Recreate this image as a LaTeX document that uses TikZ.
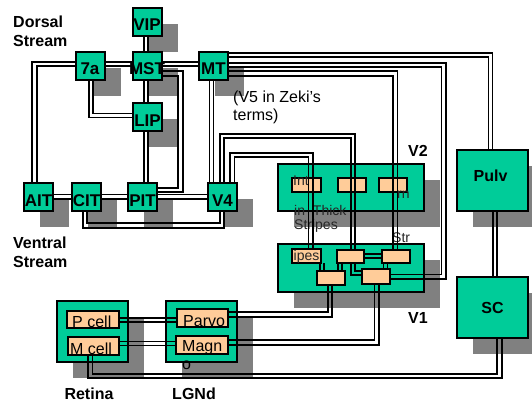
\documentclass[tikz,border=0pt]{standalone}
\usepackage{fontspec}
\setmainfont{Liberation Sans}
\usetikzlibrary{calc,shadows}
\definecolor{boxgreen}{RGB}{0,204,153}
\definecolor{suborange}{RGB}{255,204,153}
\definecolor{shadgray}{RGB}{128,128,128}
\tikzset{
 gbox/.style={draw=black, line width=2pt, fill=boxgreen, inner sep=0pt, outer sep=0pt,
   general shadow={fill=shadgray, shadow xshift=16pt, shadow yshift=-16pt}},
 smallbox/.style={gbox, minimum width=29pt, minimum height=28pt},
 bigbox/.style={gbox, minimum width=71pt, minimum height=61pt},
 areabox/.style={gbox, minimum width=146pt, minimum height=47pt},
 obox/.style={draw=black, line width=2pt, fill=suborange, inner sep=0pt, outer sep=0pt},
 bl/.style={font=\fontsize{16}{18.5}\selectfont\bfseries, inner sep=0pt},
 sbl/.style={font=\fontsize{17}{18.5}\selectfont\bfseries, inner sep=0pt},
 rl/.style={font=\fontsize{16}{18}\selectfont, inner sep=0pt},
 gl/.style={font=\fontsize{14}{14.5}\selectfont, inner sep=0pt, text=black!85},
 ln/.style={line width=1.8pt, draw=black},
}
\newcommand\vlinkx[3]{\coordinate (tmpc) at ($(#1)+(#2,0)$);\draw[ln] (tmpc) -- (tmpc |- #3);}
\newcommand\hlinkx[3]{\coordinate (tmpc) at ($(#1)+(0,#2)$);\draw[ln] (tmpc) -- (tmpc -| #3);}
\begin{document}
\begin{tikzpicture}[x=1pt,y=-1pt]
\useasboundingbox (0,0) rectangle (532,403);
\fill[white] (0,0) rectangle (532,403);
% green boxes
\node[smallbox] (vip) at (147,22) {};
\node[smallbox] (mst) at (147,66) {};
\node[smallbox] (sa) at (90,66) {};
\node[smallbox] (mt) at (213.5,66) {};
\node[smallbox] (lip) at (147.5,117.5) {};
\node[smallbox] (ait) at (38.5,197.5) {};
\node[smallbox] (cit) at (86.5,197.5) {};
\node[smallbox] (pit) at (142.5,197.5) {};
\node[smallbox] (vfour) at (222.5,197.5) {};
\node[areabox] (vtwo) at (351,187.5) {};
\node[areabox, minimum height=48pt] (vone) at (351,268) {};
\node[bigbox] (pulv) at (492.5,180.5) {};
\node[bigbox] (sc) at (492.5,307.5) {};
\node[bigbox] (ret) at (92.5,331.5) {};
\node[bigbox] (lgn) at (201.5,331.5) {};
% orange sub-boxes
\node[obox, minimum width=29pt, minimum height=14pt] (b1) at (306.5,185) {};
\node[obox, minimum width=28pt, minimum height=14pt] (b2) at (352,185) {};
\node[obox, minimum width=28pt, minimum height=14pt] (b3) at (393,185) {};
\node[obox, minimum width=29pt, minimum height=14pt] (c1) at (306.5,256) {};
\node[obox, minimum width=27pt, minimum height=13pt] (c2) at (350.5,256.5) {};
\node[obox, minimum width=28pt, minimum height=13pt] (c3) at (396,256.5) {};
\node[obox, minimum width=28pt, minimum height=14pt] (c4) at (331,278) {};
\node[obox, minimum width=28pt, minimum height=15pt] (c5) at (376,276.5) {};
\node[obox, minimum width=52pt, minimum height=17pt] (pc) at (93,319.5) {};
\node[obox, minimum width=51pt, minimum height=18pt] (mc) at (93.5,346) {};
\node[obox, minimum width=51pt, minimum height=18pt] (pv) at (202.5,318) {};
\node[obox, minimum width=52pt, minimum height=18pt] (mg) at (202,345) {};
% box labels
\node[sbl, anchor=base] (tvip) at ($(vip.center)+(0,9)$) {VIP};
\node[sbl, anchor=base] (tmst) at ($(mst.center)+(0,9)$) {MST};
\node[sbl, anchor=base] (tsa) at ($(sa.center)+(0,9)$) {7a};
\node[sbl, anchor=base] (tmt) at ($(mt.center)+(0,9)$) {MT};
\node[sbl, anchor=base] (tlip) at ($(lip.center)+(0,9)$) {LIP};
\node[sbl, anchor=base] (tait) at ($(ait.center)+(0,9)$) {AIT};
\node[sbl, anchor=base] (tcit) at ($(cit.center)+(0,9)$) {CIT};
\node[sbl, anchor=base] (tpit) at ($(pit.center)+(0,9)$) {PIT};
\node[sbl, anchor=base] (tvfour) at ($(vfour.center)+(0,9)$) {V4};
\node[bl, anchor=base] (tpulv) at ($(pulv.center)+(-2,1.5)$) {Pulv};
\node[bl, anchor=base] (tsc) at ($(sc.center)+(0,5.5)$) {SC};
\node[bl, anchor=base west] (tvtwo) at (408,156.7) {V2};
\node[bl, anchor=base west] (tvone) at (408,323) {V1};
\node[bl, anchor=base] (tret) at (89,399) {Retina};
\node[bl, anchor=base] (tlgn) at (194,399) {LGNd};
\node[bl, anchor=base west, align=left] (tdors) at (13,46.5) {Dorsal\\Stream};
\node[bl, anchor=base west, align=left] (tvent) at (13,267) {Ventral\\Stream};
\node[rl, anchor=base west, align=left] (tvfive) at (233,120.5) {(V5 in Zeki’s\\terms)};
\node[rl, anchor=base west] (tpc) at (72,327) {P cell};
\node[rl, anchor=base west] (tmc) at (70,354) {M cell};
\node[rl, anchor=base west] (tpv) at (183,326) {Parvo};
\node[rl, anchor=base west, align=left] (tmg) at (182,369) {Magn\\o};
\node[gl, anchor=base west] (tint) at (293,185.5) {Int};
\node[gl, anchor=base west, align=left] (tthk) at (294,229.5) {in\hspace{4pt} Thick\\Stripes};
\node[gl, anchor=base west] (tipes) at (293.5,260) {ipes};
\node[gl, anchor=base west] (tstr) at (392,243) {Str};
\node[gl, anchor=base west] (trn) at (397,199) {rn};
% connectors
\vlinkx{vip.south}{-3}{mst.north} \vlinkx{vip.south}{1}{mst.north}
\vlinkx{mst.south}{-3}{lip.north} \vlinkx{mst.south}{1}{lip.north}
\vlinkx{lip.south}{-3.5}{pit.north} \vlinkx{lip.south}{0.5}{pit.north}
\hlinkx{sa.east}{-4}{mst.west} \hlinkx{sa.east}{0}{mst.west}
\hlinkx{mst.east}{-4}{mt.west} \hlinkx{mst.east}{0}{mt.west}
\draw[ln] ($(sa.west)+(0,-4)$) -| ($(ait.north)+(-6.5,0)$);
\draw[ln] (sa.west) -| ($(ait.north)+(-1.5,0)$);
\draw[ln] ($(sa.south)+(-1,0)$) |- (lip.west);
\draw[ln] ($(sa.south)+(3,0)$) |- ($(lip.west)+(0,-4)$);
\draw[ln] ($(mst.east)+(0,5)$) -| ($(pit.east)+(26,-5.5)$) -- ($(pit.east)+(0,-5.5)$);
\draw[ln] ($(mst.east)+(0,10)$) -| ($(pit.east)+(21,-9.5)$) -- ($(pit.east)+(0,-9.5)$);
\hlinkx{pit.east}{-3}{vfour.west} \hlinkx{pit.east}{1.5}{vfour.west}
\hlinkx{ait.east}{-3}{cit.west} \hlinkx{ait.east}{1.5}{cit.west}
\hlinkx{cit.east}{-3}{pit.west} \hlinkx{cit.east}{1.5}{pit.west}
\draw[ln] ($(cit.south)+(-3.5,0)$) -- ++(0,16.5) -| ($(vfour.south)+(1.5,0)$);
\draw[ln] ($(cit.south)+(0.5,0)$) -- ++(0,11.5) -| ($(vfour.south)+(-2.5,0)$);
\vlinkx{mt.south}{-4}{vfour.north} \vlinkx{mt.south}{0}{vfour.north}
\draw[ln] ($(vfour.north)+(-2.5,0)$) |- ($(b2.north)+(3,-44)$) -- ($(b2.north)+(3,0)$);
\draw[ln] ($(vfour.north)+(1.5,0)$) |- ($(b2.north)+(-1,-40)$) -- ($(b2.north)+(-1,0)$);
\vlinkx{b2.north}{-1}{c2.north} \vlinkx{b2.north}{3}{c2.north}
\draw[ln] ($(vfour.north)+(7.5,0)$) |- ($(b1.north)+(6.5,-25)$) -- ($(b1.north)+(6.5,0)$);
\draw[ln] ($(vfour.north)+(12,0)$) |- ($(b1.north)+(2,-21)$) -- ($(b1.north)+(2,0)$);
\vlinkx{b1.north}{2}{c1.north} \vlinkx{b1.north}{6.5}{c1.north}
\draw[ln] ($(mt.east)+(0,-13)$) -| (pulv.north);
\draw[ln] ($(mt.east)+(0,-9)$) -| ($(pulv.north)+(-4,0)$);
\draw[ln] ($(mt.east)+(0,-3)$) -| ($(c5.east)+(56,2.5)$) -- ($(c5.east)+(0,2.5)$);
\draw[ln] ($(mt.east)+(0,1)$) -| ($(c5.east)+(51.5,-2)$) -- ($(c5.east)+(0,-2)$);
\draw[ln] ($(mt.east)+(0,5)$) -| ($(b3.north)+(4.5,0)$);
\draw[ln] ($(mt.east)+(0,10)$) -| (b3.north);
\vlinkx{b3.north}{0}{c3.north} \vlinkx{b3.north}{4.5}{c3.north}
\vlinkx{pulv.south}{0.5}{sc.north} \vlinkx{pulv.south}{4.5}{sc.north}
\draw[ln] ($(sc.south)+(9.5,0)$) -- ++(0,40) -| ($(mc.south)+(-5.5,0)$);
\draw[ln] ($(sc.south)+(4.5,0)$) -- ++(0,36) -| ($(mc.south)+(-1,0)$);
\hlinkx{pc.east}{-1.5}{pv.west} \hlinkx{pc.east}{2.5}{pv.west}
\hlinkx{mc.east}{-4.5}{mg.west} \hlinkx{mc.east}{-0.5}{mg.west}
\draw[ln] ($(pv.east)+(0,-1)$) -| ($(c4.south)+(1,0)$);
\draw[ln] ($(pv.east)+(0,-6)$) -| ($(c4.south)+(-3,0)$);
\draw[ln] (mg.east) -| ($(c5.south)+(3,0)$);
\draw[ln] ($(mg.east)+(0,-5)$) -| ($(c5.south)+(-1.5,0)$);
\hlinkx{c2.east}{-2.5}{c3.west} \hlinkx{c2.east}{1.5}{c3.west}
\vlinkx{c1.south}{13.5}{c4.north} \vlinkx{c1.south}{17.5}{c4.north}
\vlinkx{c2.south}{-12.5}{c4.north} \vlinkx{c2.south}{-8.5}{c4.north}
\vlinkx{c3.south}{-12.5}{c5.north} \vlinkx{c3.south}{-8.5}{c5.north}
\draw[ln] ($(c2.south)+(0.5,0)$) |- ($(c5.west)+(0,-1.5)$);
\draw[ln] ($(c2.south)+(4.5,0)$) |- ($(c5.west)+(0,-5.5)$);
\end{tikzpicture}
\end{document}
